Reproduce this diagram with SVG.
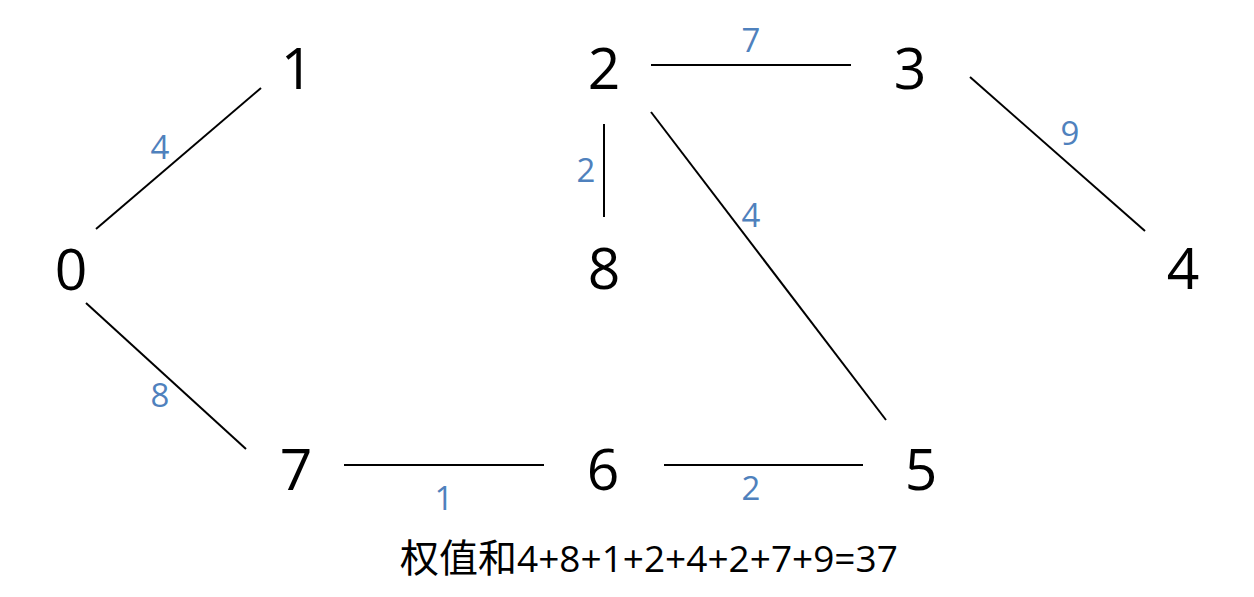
<svg xmlns="http://www.w3.org/2000/svg" width="1254" height="597" viewBox="0 0 1254 597">
<style>
.n{font-family:"Open Sans","Liberation Sans",sans-serif;font-size:57px;fill:#000;text-anchor:middle}
.w{font-family:"Open Sans","Liberation Sans",sans-serif;font-size:33px;fill:#4f81bd;text-anchor:middle}
.e line{stroke:#000;stroke-width:2}
.t{font-family:"Open Sans","Noto Sans CJK SC",sans-serif;font-size:39px;fill:#000}
</style>
<rect width="1254" height="597" fill="#fff"/>
<g class="e" id="connectors">
<line x1="96" y1="229" x2="261" y2="88"/>
<line x1="86" y1="303" x2="246" y2="449"/>
<line x1="344" y1="465" x2="544" y2="465"/>
<line x1="664" y1="465" x2="863" y2="465"/>
<line x1="651" y1="65" x2="851" y2="65"/>
<line x1="604" y1="124" x2="604" y2="217"/>
<line x1="651" y1="112" x2="886" y2="420"/>
<line x1="970" y1="77" x2="1145" y2="231"/>
</g>
<g id="weights">
<text class="w" x="160" y="159">4</text>
<text class="w" x="160" y="407">8</text>
<text class="w" x="444" y="510">1</text>
<text class="w" x="751" y="500">2</text>
<text class="w" x="751" y="52">7</text>
<text class="w" x="586" y="182">2</text>
<text class="w" x="751" y="227">4</text>
<text class="w" x="1070" y="145">9</text>
</g>
<g id="node0"><text class="n" x="71" y="290">0</text></g>
<g id="node1"><text class="n" x="297" y="89">1</text></g>
<g id="node2"><text class="n" x="604" y="89">2</text></g>
<g id="node3"><text class="n" x="910" y="89">3</text></g>
<g id="node4"><text class="n" x="1183" y="289">4</text></g>
<g id="node8"><text class="n" x="604" y="289">8</text></g>
<g id="node7"><text class="n" x="296" y="490">7</text></g>
<g id="node6"><text class="n" x="603" y="490">6</text></g>
<g id="node5"><text class="n" x="921" y="490">5</text></g>
<text class="t" x="400" y="572">权值和<tspan font-size="37">4+8+1+2+4+2+7+9=37</tspan></text>
</svg>
